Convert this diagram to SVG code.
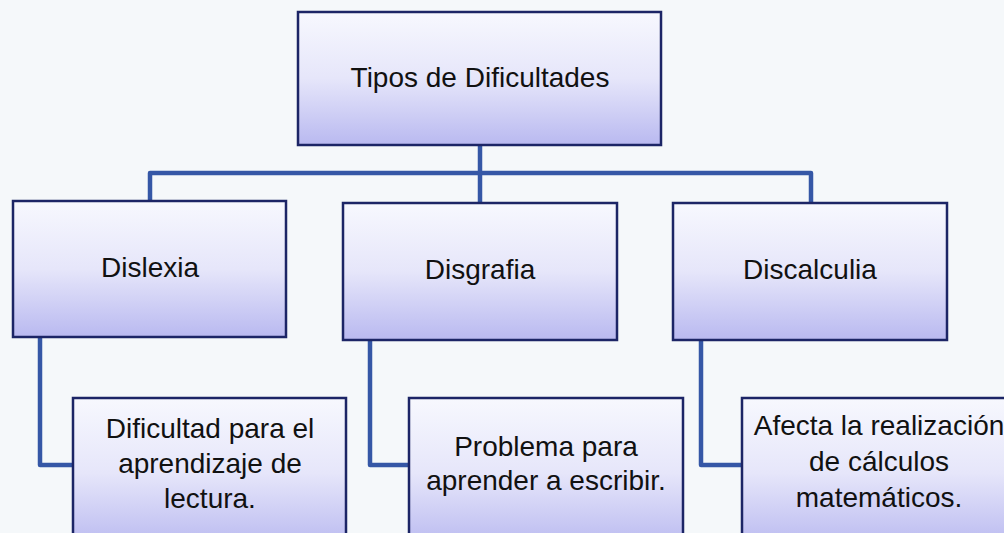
<svg xmlns="http://www.w3.org/2000/svg" width="1004" height="533" viewBox="0 0 1004 533">
<defs>
<linearGradient id="g" x1="0" y1="0" x2="0" y2="1">
<stop offset="0" stop-color="#f7f8fe"/>
<stop offset="0.5" stop-color="#e6e6fa"/>
<stop offset="1" stop-color="#b9b9f0"/>
</linearGradient>
<style>
.box{fill:url(#g);stroke:#1c2566;stroke-width:2.5}
.t{font-family:"Liberation Sans",Arial,sans-serif;font-size:28px;fill:#111;text-anchor:middle}
.c{fill:none;stroke:#3557a6;stroke-width:4.5;stroke-linejoin:round}
</style>
</defs>
<rect width="1004" height="533" fill="#f5f8fa"/>
<g id="connectors">
<path class="c" d="M480 145 V202"/>
<path class="c" d="M150 201 V173 H811 V203"/>
<path class="c" d="M40 337 V465 H73"/>
<path class="c" d="M370 340 V465 H409"/>
<path class="c" d="M701 340 V465 H741"/>
</g>
<g id="n0"><rect class="box" x="298" y="12" width="363" height="133"/><text class="t" x="480" y="87">Tipos de Dificultades</text></g>
<g id="n1"><rect class="box" x="13" y="201" width="273" height="136"/><text class="t" x="150" y="277">Dislexia</text></g>
<g id="n2"><rect class="box" x="343" y="203" width="274" height="137"/><text class="t" x="480" y="279">Disgrafia</text></g>
<g id="n3"><rect class="box" x="673" y="203" width="274" height="137"/><text class="t" x="810" y="279">Discalculia</text></g>
<g id="n4"><rect class="box" x="73" y="398" width="273" height="150"/><text class="t" x="210"><tspan x="210" y="438">Dificultad para el</tspan><tspan x="210" y="473">aprendizaje de</tspan><tspan x="210" y="508">lectura.</tspan></text></g>
<g id="n5"><rect class="box" x="409" y="398" width="274" height="150"/><text class="t" x="546"><tspan x="546" y="456">Problema para</tspan><tspan x="546" y="490">aprender a escribir.</tspan></text></g>
<g id="n6"><rect class="box" x="742" y="398" width="274" height="150"/><text class="t" x="879"><tspan x="879" y="435">Afecta la realización</tspan><tspan x="879" y="471">de cálculos</tspan><tspan x="879" y="507">matemáticos.</tspan></text></g>
</svg>
